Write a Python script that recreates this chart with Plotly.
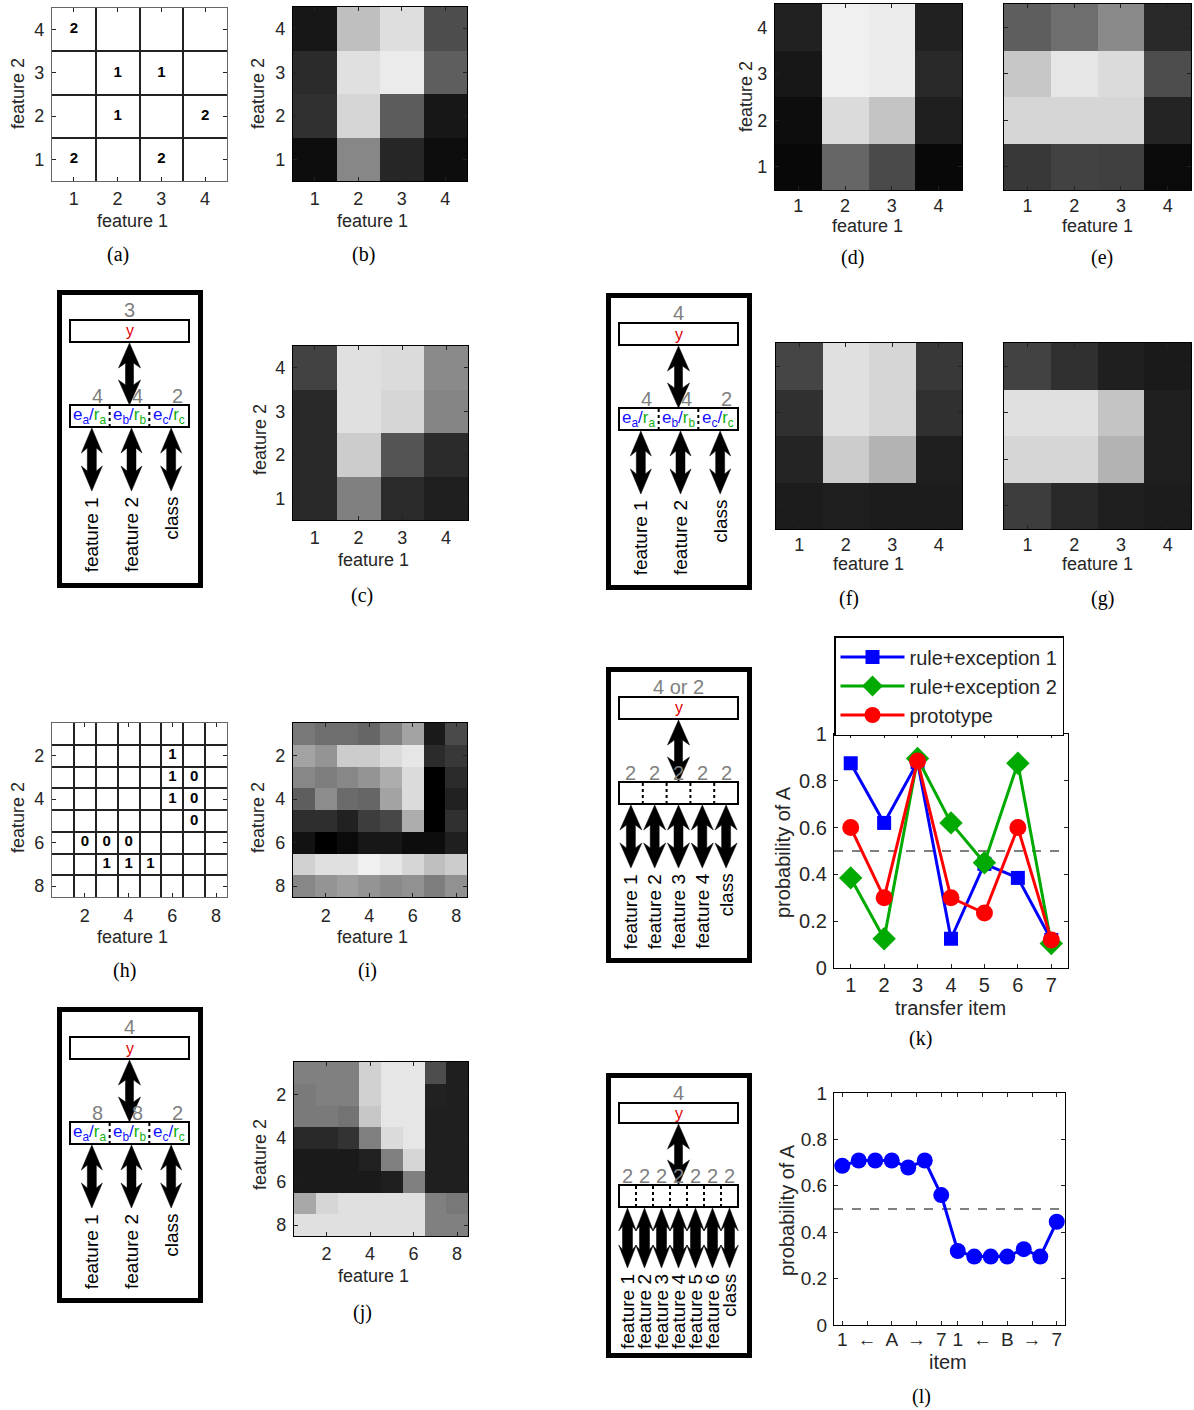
import plotly.graph_objects as go

W, H = 1194, 1410
SANS = "Liberation Sans, Arial, sans-serif"
SERIF = "Liberation Serif, Times New Roman, serif"
INK = "#262626"
GREY_NUM = "#7f7f7f"

# ---------------- data ----------------
f4 = [1, 2, 3, 4]            # feature levels on the 4x4 grids
f4_rows = [4, 3, 2, 1]       # row order of the 4x4 maps (top to bottom)
f8 = [1, 2, 3, 4, 5, 6, 7, 8]
tick8 = [2, 4, 6, 8]

# (a) training items on the 4x4 grid
a_f1 = [1, 2, 3, 2, 4, 1, 3]
a_f2 = [4, 3, 3, 2, 2, 1, 1]
a_text = ["2", "1", "1", "1", "2", "2", "2"]

# (h) training items on the 8x8 grid
h_f1 = [6, 6, 7, 6, 7, 7, 2, 3, 4, 3, 4, 5]
h_f2 = [2, 3, 3, 4, 4, 5, 6, 6, 6, 7, 7, 7]
h_text = ["1", "1", "0", "1", "0", "0", "0", "0", "0", "1", "1", "1"]

# grey-level maps, 0 = black, 1 = white
b_map = [[0.09, 0.75, 0.87, 0.30],
         [0.17, 0.88, 0.92, 0.37],
         [0.19, 0.84, 0.36, 0.09],
         [0.05, 0.53, 0.15, 0.05]]
d_map = [[0.13, 0.94, 0.92, 0.13],
         [0.09, 0.94, 0.92, 0.16],
         [0.05, 0.86, 0.77, 0.12],
         [0.03, 0.40, 0.29, 0.03]]
e_map = [[0.37, 0.43, 0.54, 0.16],
         [0.78, 0.90, 0.86, 0.30],
         [0.84, 0.84, 0.84, 0.14],
         [0.22, 0.26, 0.25, 0.04]]
c_map = [[0.26, 0.88, 0.86, 0.54],
         [0.16, 0.88, 0.84, 0.52],
         [0.16, 0.80, 0.33, 0.17],
         [0.16, 0.50, 0.17, 0.12]]
f_map = [[0.27, 0.88, 0.84, 0.22],
         [0.19, 0.88, 0.84, 0.19],
         [0.14, 0.80, 0.70, 0.12],
         [0.11, 0.12, 0.11, 0.11]]
g_map = [[0.26, 0.19, 0.12, 0.10],
         [0.88, 0.88, 0.77, 0.12],
         [0.84, 0.84, 0.70, 0.12],
         [0.24, 0.16, 0.12, 0.11]]
# 8x8 maps, rows feature 2 = 1 .. 8
i_map = [[0.47, 0.43, 0.43, 0.40, 0.50, 0.64, 0.10, 0.29],
         [0.64, 0.58, 0.80, 0.80, 0.86, 0.90, 0.17, 0.22],
         [0.53, 0.49, 0.53, 0.58, 0.68, 0.86, 0.00, 0.17],
         [0.37, 0.55, 0.42, 0.40, 0.64, 0.86, 0.00, 0.13],
         [0.18, 0.18, 0.13, 0.24, 0.28, 0.68, 0.00, 0.19],
         [0.07, 0.00, 0.04, 0.09, 0.09, 0.05, 0.05, 0.12],
         [0.82, 0.88, 0.88, 0.94, 0.90, 0.84, 0.75, 0.80],
         [0.53, 0.58, 0.62, 0.58, 0.54, 0.57, 0.49, 0.57]]
j_map = [[0.50, 0.50, 0.50, 0.82, 0.90, 0.90, 0.30, 0.12],
         [0.48, 0.50, 0.50, 0.82, 0.90, 0.90, 0.13, 0.12],
         [0.48, 0.48, 0.45, 0.78, 0.90, 0.90, 0.12, 0.12],
         [0.16, 0.16, 0.20, 0.50, 0.86, 0.90, 0.12, 0.12],
         [0.10, 0.10, 0.10, 0.13, 0.50, 0.84, 0.12, 0.12],
         [0.10, 0.10, 0.10, 0.10, 0.12, 0.50, 0.12, 0.12],
         [0.66, 0.84, 0.88, 0.88, 0.88, 0.88, 0.50, 0.47],
         [0.88, 0.88, 0.88, 0.88, 0.88, 0.88, 0.50, 0.50]]

# (k) transfer generalisation
transfer_item = [1, 2, 3, 4, 5, 6, 7]
p_rule_exc1 = [0.875, 0.62, 0.88, 0.125, 0.445, 0.385, 0.12]
p_rule_exc2 = [0.385, 0.125, 0.895, 0.62, 0.45, 0.875, 0.105]
p_prototype = [0.60, 0.30, 0.885, 0.30, 0.235, 0.60, 0.12]
series_names = ["rule+exception 1", "rule+exception 2", "prototype"]

# (l) item-wise probability of A
item_pos = list(range(1, 15))
p_item_A = [0.686, 0.709, 0.709, 0.709, 0.679, 0.709, 0.56,
            0.319, 0.295, 0.295, 0.295, 0.327, 0.295, 0.445]
item_tickvals = [1, 2.5, 4, 5.5, 7, 8, 9.5, 11, 12.5, 14]
item_ticktext = ["1", "\u2190", "A", "\u2192", "7", "1", "\u2190", "B", "\u2192", "7"]

prob_ticks = [0, 0.2, 0.4, 0.6, 0.8, 1]

# network diagrams
net_specs = [
    dict(x0=57, y0=290, h=298, top="3", units=["4", "4", "2"],
         labels=["feature 1", "feature 2", "class"], er=True),
    dict(x0=606, y0=293, h=297, top="4", units=["4", "4", "2"],
         labels=["feature 1", "feature 2", "class"], er=True),
    dict(x0=57, y0=1007, h=296, top="4", units=["8", "8", "2"],
         labels=["feature 1", "feature 2", "class"], er=True),
    dict(x0=606, y0=667, h=296, top="4 or 2", units=["2"] * 5,
         labels=["feature 1", "feature 2", "feature 3", "feature 4", "class"], er=False),
    dict(x0=606, y0=1073, h=285, top="4", units=["2"] * 7,
         labels=["feature 1", "feature 2", "feature 3", "feature 4",
                 "feature 5", "feature 6", "class"], er=False, compact=True),
]
er_subs = ["a", "b", "c"]

# ---------------- helpers ----------------
def px(x):
    return x / W


def py(y):
    return 1 - y / H


def xd(x0, x1):
    return [px(x0), px(x1)]


def yd(y0, y1):
    return [py(y1), py(y0)]


fig = go.Figure()
shapes, annots = [], []
layout_axes = {}


def ax_names(i):
    s = "" if i == 1 else str(i)
    return "x" + s, "y" + s, "xaxis" + s, "yaxis" + s


def add_axes(i, rect, xr, yr, xtv, ytv, xtt=None, ytt=None, ylabels=True,
             size=18, frame="#000", minor=None, xstand=2, ystand=3):
    xn, yn, xk, yk = ax_names(i)
    common = dict(ticks="inside", ticklen=4, tickcolor="#222", mirror="ticks",
                  showline=True, linecolor=frame, linewidth=1.3, showgrid=False,
                  zeroline=False, fixedrange=True, automargin=False,
                  tickfont=dict(family=SANS, size=size, color=INK))
    xa = dict(common, domain=xd(rect[0], rect[2]), range=xr, anchor=yn,
              tickmode="array", tickvals=xtv, ticklabelstandoff=xstand)
    ya = dict(common, domain=yd(rect[1], rect[3]), range=yr, anchor=xn,
              tickmode="array", tickvals=ytv, showticklabels=ylabels,
              ticklabelstandoff=ystand)
    if xtt is not None:
        xa["ticktext"] = xtt
    if ytt is not None:
        ya["ticktext"] = ytt
    if minor is not None:
        for a in (xa, ya):
            a["minor"] = dict(tickmode="array", tickvals=minor, showgrid=True,
                              gridcolor="#222", gridwidth=1.5, ticks="")
    layout_axes[xk] = xa
    layout_axes[yk] = ya
    return xn, yn


def text_at(x, y, s, size=18, family=SANS, color=INK, angle=0, xa="center", ya="middle"):
    annots.append(dict(x=px(x), y=py(y), xref="paper", yref="paper", text=s,
                       showarrow=False, textangle=angle, xanchor=xa, yanchor=ya,
                       font=dict(family=family, size=size, color=color)))


grey = [[0, "rgb(0,0,0)"], [1, "rgb(255,255,255)"]]


def heat(i, rect, z, big=False, ylabels=True, xstand=2):
    if big:
        xn, yn = add_axes(i, rect, [0.5, 8.5], [8.5, 0.5], tick8, tick8,
                          ylabels=ylabels, xstand=xstand)
        xs, ys = f8, f8
    else:
        xn, yn = add_axes(i, rect, [0.5, 4.5], [0.5, 4.5], f4, f4,
                          ylabels=ylabels, xstand=xstand)
        xs, ys = f4, f4_rows
    fig.add_trace(go.Heatmap(x=xs, y=ys, z=z, colorscale=grey, zmin=0, zmax=1,
                             showscale=False, hoverinfo="skip", xaxis=xn, yaxis=yn))


def titles(xt, yt, lab):
    text_at(xt[0], xt[1], "feature 1")
    if yt is not None:
        text_at(yt[0], yt[1], "feature 2", angle=-90)
    text_at(lab[0], lab[1], lab[2], size=20, family=SERIF, color="#000")


# ---------------- grid panels ----------------
xn, yn = add_axes(1, (52, 8, 227, 181), [0.5, 4.5], [0.5, 4.5], f4, f4,
                  frame="#666", minor=[1.5, 2.5, 3.5], xstand=1)
fig.add_trace(go.Scatter(x=a_f1, y=a_f2, mode="text",
                         text=["<b>%s</b>" % t for t in a_text],
                         textfont=dict(family=SANS, size=15, color="#000"),
                         hoverinfo="skip", showlegend=False, xaxis=xn, yaxis=yn))
titles((132, 221), (18, 94), (118, 255, "(a)"))

heat(2, (293, 7, 467, 181), b_map, xstand=1)
titles((372, 221), (258, 94), (363, 255, "(b)"))

heat(3, (775, 4, 962, 190), d_map, xstand=-1)
titles((867, 226), (746, 97), (852, 258, "(d)"))

heat(4, (1004, 4, 1191, 190), e_map, ylabels=False, xstand=-1)
titles((1097, 226), None, (1102, 258, "(e)"))

heat(5, (293, 346, 468, 520), c_map, xstand=1)
titles((373, 560), (260, 440), (362, 595, "(c)"))

heat(6, (776, 343, 962, 529), f_map, ylabels=False, xstand=-1)
titles((868, 564), None, (849, 598, "(f)"))

heat(7, (1004, 343, 1191, 529), g_map, ylabels=False, xstand=-1)
titles((1097, 564), None, (1102, 598, "(g)"))

xn, yn = add_axes(8, (52, 723, 227, 897), [0.5, 8.5], [8.5, 0.5], tick8, tick8,
                  frame="#666", minor=[1.5, 2.5, 3.5, 4.5, 5.5, 6.5, 7.5])
fig.add_trace(go.Scatter(x=h_f1, y=h_f2, mode="text",
                         text=["<b>%s</b>" % t for t in h_text],
                         textfont=dict(family=SANS, size=15, color="#000"),
                         hoverinfo="skip", showlegend=False, xaxis=xn, yaxis=yn))
titles((132, 937), (18, 818), (124, 970, "(h)"))

heat(9, (293, 723, 467, 897), i_map, big=True)
titles((372, 937), (258, 818), (367, 970, "(i)"))

heat(10, (294, 1062, 468, 1236), j_map, big=True, xstand=1)
titles((373, 1276), (260, 1155), (362, 1312, "(j)"))

# ---------------- line charts ----------------
xn, yn = add_axes(11, (834, 734, 1068, 968), [0.5, 7.5], [0, 1], transfer_item,
                  prob_ticks, size=20, xstand=-1, ystand=2)
styles = [("blue", "square", 14), ("#00aa00", "diamond", 18), ("red", "circle", 17)]
for name, vals, (col, sym, ms) in zip(series_names,
                                       [p_rule_exc1, p_rule_exc2, p_prototype], styles):
    fig.add_trace(go.Scatter(x=transfer_item, y=vals, name=name, mode="lines+markers",
                             line=dict(color=col, width=3),
                             marker=dict(color=col, symbol=sym, size=ms),
                             hoverinfo="skip", xaxis=xn, yaxis=yn))
shapes.append(dict(type="line", xref="x11 domain", yref="y11", x0=0, x1=1, y0=0.5, y1=0.5,
                   line=dict(color="#555", width=1.3, dash="dash"), layer="below"))
text_at(950, 1008, "transfer item", size=20)
text_at(783, 852, "probability of A", size=20, angle=-90)
text_at(920, 1038, "(k)", size=20, family=SERIF, color="#000")

xn, yn = add_axes(12, (834, 1093, 1065, 1325), [0.5, 14.5], [0, 1], item_tickvals,
                  prob_ticks, xtt=item_ticktext, size=19, xstand=-3, ystand=2)
fig.add_trace(go.Scatter(x=item_pos, y=p_item_A, mode="lines+markers", showlegend=False,
                         line=dict(color="blue", width=3),
                         marker=dict(color="blue", symbol="circle", size=16),
                         hoverinfo="skip", xaxis=xn, yaxis=yn))
shapes.append(dict(type="line", xref="x12 domain", yref="y12", x0=0, x1=1, y0=0.5, y1=0.5,
                   line=dict(color="#555", width=1.3, dash="dash"), layer="below"))
text_at(948, 1362, "item", size=20)
text_at(787, 1210, "probability of A", size=20, angle=-90)
text_at(921, 1396, "(l)", size=20, family=SERIF, color="#000")


# ---------------- network diagrams ----------------
def rect_px(x0, y0, x1, y1, lw, dash=None):
    line = dict(color="black", width=lw)
    if dash:
        line["dash"] = dash
    shapes.append(dict(type="rect", xref="paper", yref="paper", x0=px(x0), x1=px(x1),
                       y0=py(y1), y1=py(y0), line=line, fillcolor="rgba(0,0,0,0)"))


def vline_px(x, y0, y1, lw, dash=None):
    line = dict(color="black", width=lw)
    if dash:
        line["dash"] = dash
    shapes.append(dict(type="line", xref="paper", yref="paper", x0=px(x), x1=px(x),
                       y0=py(y0), y1=py(y1), line=line))


def double_arrow(x, y1, y2, hw=10.5, hl=25, sw=4):
    back = hl * 0.8
    pts = [(x, y1), (x + hw, y1 + hl), (x + sw, y1 + back), (x + sw, y2 - back),
           (x + hw, y2 - hl), (x, y2), (x - hw, y2 - hl), (x - sw, y2 - back),
           (x - sw, y1 + back), (x - hw, y1 + hl)]
    path = "M " + " L ".join("%.5f,%.5f" % (px(a), py(b)) for a, b in pts) + " Z"
    shapes.append(dict(type="path", xref="paper", yref="paper", path=path,
                       fillcolor="black", line=dict(color="black", width=0.5)))


def net_diagram(x0, y0, h, top, units, labels, er, compact=False):
    # outer thick frame
    rect_px(x0 + 2.5, y0 + 2.5, x0 + 146 - 2.5, y0 + h - 2.5, 5)
    bx0, bx1 = x0 + 13, x0 + 132
    cx = (bx0 + bx1) / 2
    yb0, yb1 = (y0 + 30, y0 + 50) if compact else (y0 + 30, y0 + 52)
    ub0 = y0 + (112 if compact else 115)
    ub1 = ub0 + 22
    low_len = 60 if compact else 63
    text_at(cx, y0 + 20, top, size=20, color=GREY_NUM)
    rect_px(bx0, yb0, bx1, yb1, 2)
    text_at(cx, (yb0 + yb1) / 2, "y", size=16, color="#e00000")
    double_arrow(cx, yb1 + 1, ub0, hw=11, hl=25, sw=4)
    rect_px(bx0, ub0, bx1, ub1, 2)
    n = len(units)
    cw = (bx1 - bx0) / n
    for k in range(1, n):
        vline_px(bx0 + k * cw, ub0 + 1, ub1 - 1, 2, dash="dot")
    num_dx = 8 if n == 3 else 0
    if n <= 3:
        hw, sw = 10.5, 4.5
    elif n <= 5:
        hw, sw = 11, 4.5
    else:
        hw, sw = 8.8, 5
    for k in range(n):
        c = bx0 + (k + 0.5) * cw
        text_at(c + num_dx, ub0 - 9, units[k], size=20, color=GREY_NUM)
        if er:
            s = er_subs[k]
            text_at(c, (ub0 + ub1) / 2,
                    '<span style="color:#1010ff">e<sub>%s</sub>/</span>'
                    '<span style="color:#10b010">r<sub>%s</sub></span>' % (s, s),
                    size=17, color="#1010ff")
        ac = c + (2 if n == 3 else 0)
        double_arrow(ac, ub1 + 1, ub1 + 1 + low_len, hw=hw, hl=25 if n <= 5 else 23, sw=sw)
        text_at(ac, ub1 + low_len + 5, labels[k], size=19, color="#000",
                angle=-90, ya="top")


for spec in net_specs:
    net_diagram(**spec)

fig.update_layout(
    width=W, height=H,
    margin=dict(l=0, r=0, t=0, b=0, pad=0, autoexpand=False),
    paper_bgcolor="white", plot_bgcolor="white",
    shapes=shapes, annotations=annots,
    legend=dict(x=px(834), y=py(636), xanchor="left", yanchor="top",
                bordercolor="black", borderwidth=1.5, bgcolor="white",
                font=dict(family=SANS, size=20, color=INK), itemwidth=64,
                tracegroupgap=0, itemsizing="trace"),
    **layout_axes,
)

fig.write_html("out.html")
